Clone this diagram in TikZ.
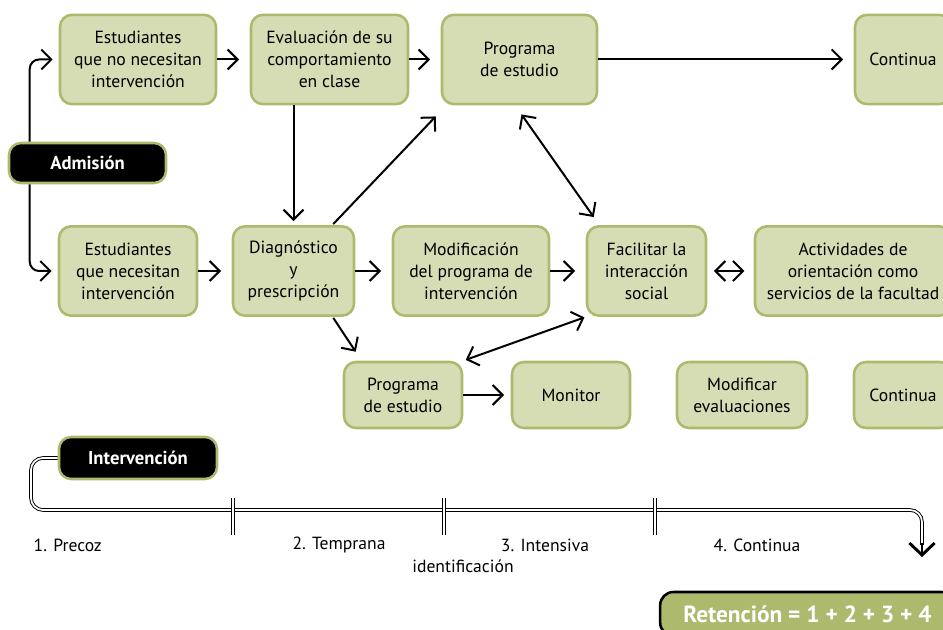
\documentclass[tikz,border=0pt]{standalone}
\usepackage{fontspec}
\setmainfont{PT Sans}
\usepackage{tikz}
\usetikzlibrary{arrows.meta,calc}

\definecolor{boxfill}{HTML}{D6DCB4}
\definecolor{boxline}{HTML}{ADBA6E}

\tikzset{
  box/.style={draw=boxline, fill=boxfill, line width=1.9pt, rounded corners=9pt,
    align=center, inner sep=2pt, font=\fontsize{13.2}{16.5}\selectfont},
  blackbox/.style={draw=boxline, fill=black, text=white, line width=1.9pt,
    rounded corners=9pt, font=\bfseries\fontsize{14}{16}\selectfont},
  arr/.style={-{Straight Barb[length=7.5pt,width=15pt]}, line width=1.5pt, shorten >=8pt},
  arrboth/.style={{Straight Barb[length=7.5pt,width=15pt]}-{Straight Barb[length=7.5pt,width=15pt]},
    line width=1.5pt},
  tline/.style={draw, double, line width=0.7pt, double distance=1.3pt},
  stage/.style={font=\fontsize{13.2}{16}\selectfont}
}

\begin{document}
\begin{tikzpicture}[x=0.75pt, y=-0.75pt]
\useasboundingbox (0,0) rectangle (943,630);

% upper row
\node[box, minimum width=117pt, minimum height=67pt] (A) at (138,59.5) {Estudiantes\\que no necesitan\\intervención};
\node[box, minimum width=117.75pt, minimum height=67pt] (B) at (329.5,59.5) {Evaluación de su\\comportamiento\\en clase};
\node[box, minimum width=116.25pt, minimum height=67pt] (C) at (519.5,59.5) {Programa\\de estudio};
\node[box, minimum width=72pt, minimum height=67pt] (D) at (903,59.5) {Continua};

\node[blackbox, minimum width=117.75pt, minimum height=30pt] (adm) at (87.5,163) {Admisión};

% lower row
\node[box, minimum width=103.5pt, minimum height=67pt] (E) at (128,271) {Estudiantes\\que necesitan\\intervención};
\node[box, minimum width=90.75pt, minimum height=67pt] (F) at (293.5,271) {Diagnóstico\\y\\prescripción};
\node[box, minimum width=117pt, minimum height=67pt] (G) at (471,271) {Modificación\\del programa de\\intervención};
\node[box, minimum width=89.25pt, minimum height=67pt] (H) at (646.5,271) {Facilitar la\\interacción\\social};
\node[box, minimum width=147pt, minimum height=67pt] (I) at (853,271) {Actividades de\\orientación como\\servicios de la facultad};

\node[box, minimum width=88.5pt, minimum height=49.5pt] (J) at (403,395) {Programa\\de estudio};
\node[box, minimum width=88.5pt, minimum height=49.5pt] (K) at (571,395) {Monitor};
\node[box, minimum width=97.5pt, minimum height=49.5pt] (L) at (742,395) {Modificar\\evaluaciones};
\node[box, minimum width=73.5pt, minimum height=49.5pt] (M) at (903,395) {Continua};

% connectors
\draw[arr, rounded corners=7pt, shorten >=4.5pt] ($(adm.north west)+(22,0)$) |- (A.west);
\draw[arr, rounded corners=7pt, shorten >=4.5pt] ($(adm.south west)+(22,0)$) |- (E.west);
\draw[arr] (A) -- (B);
\draw[arr] (B) -- (C);
\draw[arr] (C) -- (D);
\draw[arr, shorten >=3pt] (F |- B.south) -- (F.north);
\draw[arr, shorten >=0pt] ($(F.north east)+(-22,-1)$) -- ($(C.south west)+(-5,11)$);
\draw[arrboth] ($(C.south)+(2,9)$) -- ($(H.north west)+(8,-8)$);
\draw[arr] (E) -- (F);
\draw[arr] (F) -- (G);
\draw[arr] (G) -- (H);
\draw[arrboth, shorten <=5pt, shorten >=7pt] (H) -- (I);
\draw[arr, shorten >=0pt] ($(F.south east)+(-22,1)$) -- ($(J.north west)+(13,-9)$);
\draw[arrboth, shorten <=1pt, shorten >=2pt] (H.south west) -- (J.north east);
\draw[arr, shorten >=5pt] (J) -- (K);

% intervention time line
\node[blackbox, minimum width=118.5pt, minimum height=31.5pt] (intv) at (138,458) {Intervención};
\coordinate (tlend) at (922,557);
\draw[tline, rounded corners=9pt] (intv.west) -| (31,510) -| ($(tlend)+(0,-12)$);
\draw[line width=2.2pt, -{Straight Barb[length=9pt,width=19pt]}] ($(tlend)+(0,-14)$) -- (tlend);
\foreach \x in {233,444,655}
  \draw[tline] (\x,498) -- (\x,535);

\node[stage, anchor=west] (s1) at (29,545) {1. Precoz};
\node[stage] (s2) at (339,545) {2. Temprana};
\node[stage] (s3) at (545,545) {3. Intensiva};
\node[stage] (s3b) at (463,566) {identificación};
\node[stage] (s4) at (757,545) {4. Continua};

\node[draw=black, fill=boxline, line width=1.9pt, rounded corners=10pt, text=white,
  font=\bfseries\fontsize{17.5}{19}\selectfont, minimum width=221pt, minimum height=33pt]
  (ret) at (807.5,614) {Retención = 1 + 2 + 3 + 4};
\end{tikzpicture}
\end{document}
